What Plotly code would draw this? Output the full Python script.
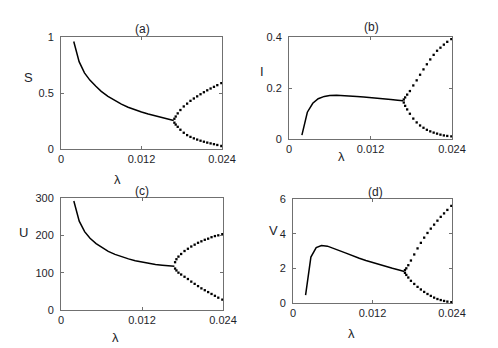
import plotly.graph_objects as go

# solid (stable) branch
lam_solid = [0.0019, 0.0027, 0.0035, 0.0043, 0.0052, 0.006, 0.007, 0.008, 0.009,
             0.010, 0.011, 0.012, 0.013, 0.014, 0.015, 0.016, 0.0168]
S_solid = [0.96, 0.78, 0.68, 0.615, 0.56, 0.515, 0.47, 0.432, 0.40,
           0.373, 0.35, 0.33, 0.312, 0.296, 0.281, 0.266, 0.255]
I_solid = [0.015, 0.105, 0.14, 0.158, 0.167, 0.171, 0.172, 0.171, 0.169,
           0.167, 0.165, 0.163, 0.161, 0.158, 0.155, 0.152, 0.15]
U_solid = [292, 238, 210, 192, 178, 168, 157, 149, 142,
           137, 132, 128, 125, 122, 120, 118, 117]
V_solid = [0.45, 2.65, 3.2, 3.32, 3.28, 3.18, 3.02, 2.88, 2.72,
           2.58, 2.45, 2.33, 2.22, 2.12, 2.0, 1.9, 1.82]

# dotted (oscillation max / min) branches
lam_dot = [0.0169, 0.0171, 0.0174, 0.0178, 0.0183, 0.0188, 0.0193, 0.0198,
           0.0203, 0.0208, 0.0213, 0.0218, 0.0223, 0.0228, 0.0233, 0.0239]
S_max = [0.27, 0.29, 0.318, 0.348, 0.38, 0.405, 0.43, 0.451,
         0.47, 0.489, 0.507, 0.524, 0.54, 0.555, 0.57, 0.588]
S_min = [0.235, 0.218, 0.198, 0.172, 0.145, 0.124, 0.108, 0.095,
         0.084, 0.074, 0.065, 0.057, 0.05, 0.043, 0.036, 0.027]
I_max = [0.155, 0.163, 0.174, 0.188, 0.21, 0.23, 0.252, 0.273,
         0.293, 0.312, 0.33, 0.346, 0.358, 0.37, 0.381, 0.392]
I_min = [0.143, 0.13, 0.116, 0.099, 0.08, 0.065, 0.053, 0.044,
         0.036, 0.03, 0.025, 0.021, 0.017, 0.014, 0.012, 0.01]
U_max = [128, 136, 143, 150, 158, 164, 170, 175,
         180, 184, 188, 191, 195, 198, 200, 203]
U_min = [111, 106, 100, 95, 89, 83, 76, 70,
         64, 58, 53, 48, 43, 38, 33, 28]
V_max = [1.9, 2.0, 2.18, 2.45, 2.8, 3.15, 3.47, 3.77,
         4.04, 4.29, 4.52, 4.75, 4.97, 5.17, 5.37, 5.6]
V_min = [1.74, 1.62, 1.47, 1.28, 1.1, 0.93, 0.78, 0.64,
         0.52, 0.41, 0.31, 0.23, 0.17, 0.12, 0.08, 0.05]

x_ticks = [0, 0.012, 0.024]
x_ticktext = ['0', '0.012', '0.024']

panels = [
    # name, ylabel, solid, max, min, yticks, yticktext
    ('(a)', 'S', S_solid, S_max, S_min, [0, 0.5, 1], ['0', '0.5', '1']),
    ('(b)', 'I', I_solid, I_max, I_min, [0, 0.2, 0.4], ['0', '0.2', '0.4']),
    ('(c)', 'U', U_solid, U_max, U_min, [0, 100, 200, 300], ['0', '100', '200', '300']),
    ('(d)', 'V', V_solid, V_max, V_min, [0, 2, 4, 6], ['0', '2', '4', '6']),
]

W, H = 498, 348
# plot boxes in pixels: left, right, top, bottom
boxes = [(61, 222, 37, 149), (289, 452, 37, 139), (61, 223, 198, 310), (293, 452, 199, 303)]
title_pos = [(142, 29), (371, 27), (142, 191), (375, 192)]
ylab_pos = [(28, 77), (262, 72), (23, 232), (273, 230)]
xlab_pos = [(117, 179), (341, 157), (115, 337), (351, 333)]

txt = '#1e1e2a'
font = dict(family='Liberation Sans, Arial', size=11, color=txt)

fig = go.Figure()
annotations = []
for k, (name, ylab, solid, ymax, ymin, yt, ytt) in enumerate(panels):
    n = '' if k == 0 else str(k + 1)
    xa, ya = 'x' + n, 'y' + n
    fig.add_trace(go.Scatter(x=lam_solid, y=solid, mode='lines', xaxis=xa, yaxis=ya,
                             line=dict(color='black', width=1.5), showlegend=False))
    for br in (ymax, ymin):
        fig.add_trace(go.Scatter(x=lam_dot, y=br, mode='markers', xaxis=xa, yaxis=ya,
                                 marker=dict(color='black', size=2.3, symbol='square',
                                             line=dict(width=0)),
                                 showlegend=False))
    l, r, t, b = boxes[k]
    common = dict(showline=True, linecolor='#707070', linewidth=1, mirror='ticks',
                  ticks='inside', ticklen=3, tickcolor='#707070', showgrid=False,
                  zeroline=False, tickfont=font, automargin=False)
    fig.layout['xaxis' + n] = dict(domain=[l / W, r / W], anchor=ya, range=[0, 0.024],
                                   tickvals=x_ticks, ticktext=x_ticktext, **common)
    fig.layout['yaxis' + n] = dict(domain=[1 - b / H, 1 - t / H], anchor=xa,
                                   range=[yt[0], yt[-1]], tickvals=yt, ticktext=ytt,
                                   ticklabelstandoff=4, **common)
    for (px, py), s, sz in ((title_pos[k], name, 12), (ylab_pos[k], ylab, 13), (xlab_pos[k], 'λ', 13)):
        annotations.append(dict(x=px / W, y=1 - py / H, xref='paper', yref='paper', text=s,
                                showarrow=False, xanchor='center', yanchor='middle',
                                font=dict(family='Liberation Sans, Arial', size=sz, color=txt)))

fig.update_layout(width=W, height=H, margin=dict(l=0, r=0, t=0, b=0),
                  paper_bgcolor='white', plot_bgcolor='white', annotations=annotations)

# drop the default page margin so the figure sits at the window's corner
fig.write_html("out.html", config={'displayModeBar': False},
               post_script="document.body.style.margin='0px';")
